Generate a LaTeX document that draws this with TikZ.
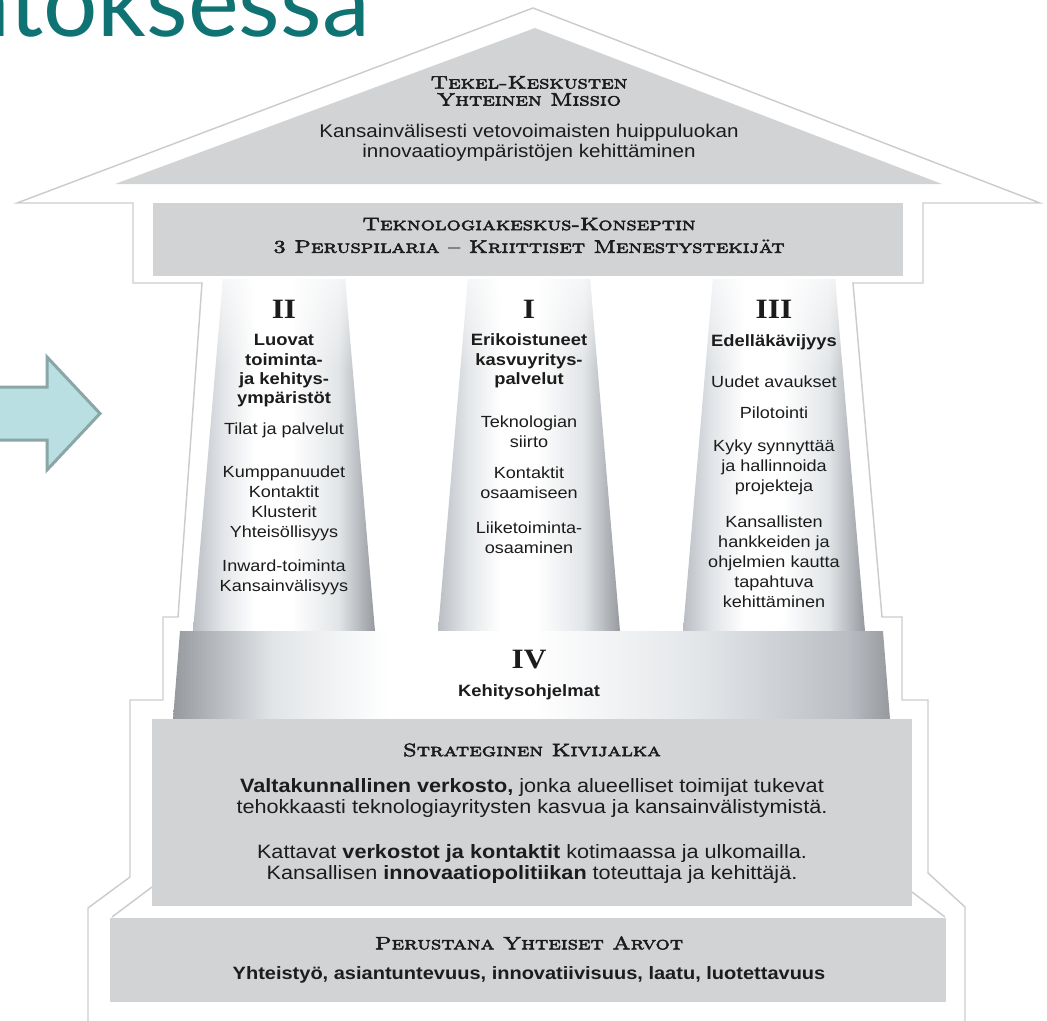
\documentclass[tikz,border=0pt]{standalone}
\usepackage{fontspec}
\setsansfont{Liberation Sans}[FakeStretch=1.12]
\newfontfamily\headfont{lmromancaps10-regular.otf}[FakeStretch=1.25,FakeBold=3]
\newfontfamily\numfont{Liberation Serif}[FakeStretch=1.12]
\newfontfamily\titlefont{Lato}
\usetikzlibrary{fadings}

\definecolor{boxgray}{RGB}{209,211,213}
\definecolor{linegray}{RGB}{204,204,204}
\definecolor{pilledge}{RGB}{186,190,195}
\definecolor{pillmid}{RGB}{226,229,232}
\definecolor{pilldark}{RGB}{150,154,159}
\definecolor{arrowfill}{RGB}{185,223,226}
\definecolor{arrowline}{RGB}{138,166,166}
\definecolor{titleteal}{RGB}{16,115,115}
\definecolor{ink}{RGB}{28,28,28}

\pgfdeclarehorizontalshading{pillarshade}{100bp}{color(0bp)=(pilledge); color(25bp)=(pilledge); color(33bp)=(pillmid); color(42bp)=(white); color(52bp)=(white); color(65bp)=(pillmid); color(75bp)=(pilldark); color(100bp)=(pilldark)}
\pgfdeclarehorizontalshading{baseshade}{100bp}{color(0bp)=(pilldark); color(25bp)=(pilldark); color(32bp)=(pillmid); color(40bp)=(white); color(50bp)=(white); color(62bp)=(pillmid); color(72bp)=(pilledge); color(75bp)=(pilldark); color(100bp)=(pilldark)}
\tikzfading[name=pillar top, top color=transparent!35, bottom color=transparent!100]

\tikzset{
  house line/.style={draw=linegray, line width=1.1pt, line join=miter},
  heading/.style={font=\headfont\fontsize{13.5}{17}\selectfont, text=ink, align=center, inner sep=0pt},
  numeral/.style={font=\numfont\bfseries\fontsize{21}{21}\selectfont, text=ink, inner sep=0pt},
  pilltitle/.style={font=\sffamily\bfseries\fontsize{12.3}{14.5}\selectfont, text=ink, align=center, inner sep=0pt},
  pilltext/.style={font=\sffamily\fontsize{12.1}{15}\selectfont, text=ink, align=center, inner sep=0pt},
  roottext/.style={font=\sffamily\fontsize{14.5}{15.75}\selectfont, text=ink, align=center, inner sep=0pt},
}

\begin{document}
\begin{tikzpicture}[x=0.75pt, y=-0.75pt]
  \useasboundingbox (0, 0) rectangle (1047, 1021);
  %
  % title, cut by the top edge
  \node[font=\titlefont\fontsize{72}{72}\selectfont, text=titleteal, anchor=base east, inner sep=0pt]
    (title) at (370, 36) {atoksessa};
  %
  % arrow
  \draw[fill=arrowfill, draw=arrowline, line width=2.25pt, line join=miter]
    (-4, 387) -- (47, 387) -- (47, 357) -- (100, 413.5) -- (47, 470) -- (47, 440) -- (-4, 440) -- cycle;
  %
  % outline of the house
  \draw[house line] (88, 1021) -- (88, 908) -- (130, 877) -- (130, 700) -- (163, 700) -- (163, 617)
    -- (178, 617) -- (202, 283) -- (133, 283) -- (133, 203) -- (17, 203) -- (533, 8)
    -- (1040, 203) -- (923, 203) -- (923, 283) -- (853, 283) -- (882, 617) -- (902, 617)
    -- (902, 700) -- (928, 700) -- (928, 873) -- (965, 907) -- (965, 1021);
  %
  % roof and beam
  \fill[boxgray] (535, 28) -- (942, 184) -- (115, 184) -- cycle;
  \fill[boxgray] (153, 203) rectangle (903, 276);
  %
  \node[font=\headfont\fontsize{13.5}{12.8}\selectfont, text=ink, align=center, inner sep=0pt]
    (mission head) at (529, 91) {Tekel-Keskusten\\Yhteinen Missio};
  \node[font=\sffamily\fontsize{13.8}{15}\selectfont, text=ink, align=center, inner sep=0pt]
    (mission) at (529, 143) {Kansainvälisesti vetovoimaisten huippuluokan\\innovaatioympäristöjen kehittäminen};
  \node[heading] (beam head) at (529, 235.5)
    {Teknologiakeskus-Konseptin\\3 Peruspilaria – Kriittiset Menestystekijät};
  %
  % pillars
  \newcommand{\topHalf}{61}
  \newcommand{\botHalf}{91}
  \foreach \cx/\nm in {284/II, 529/I, 774/III} {
    \shade[shading=pillarshade] (\cx-\topHalf, 279) -- (\cx+\topHalf, 279)
      -- (\cx+\botHalf, 631) -- (\cx-\botHalf, 631) -- cycle;
    \fill[white, path fading=pillar top] (\cx-\topHalf, 279) -- (\cx+\topHalf, 279)
      -- (\cx+\topHalf+8, 370) -- (\cx-\topHalf-8, 370) -- cycle;
    \node[numeral] (num \nm) at (\cx, 309) {\nm};
  }
  %
  % pillar II
  \node[pilltitle] (luovat) at (284, 371) {Luovat\\toiminta-\\ja kehitys-\\ympäristöt};
  \node[pilltext] (tilat) at (284, 430) {Tilat ja palvelut};
  \node[pilltext] (kumppanuudet) at (284, 503) {Kumppanuudet\\Kontaktit\\Klusterit\\Yhteisöllisyys};
  \node[pilltext] (inward) at (284, 577) {Inward-toiminta\\Kansainvälisyys};
  %
  % pillar I
  \node[pilltitle] (erikoistuneet) at (529, 361) {Erikoistuneet\\kasvuyritys-\\palvelut};
  \node[pilltext] (siirto) at (529, 432) {Teknologian\\siirto};
  \node[pilltext] (kontaktit) at (529, 483) {Kontaktit\\osaamiseen};
  \node[pilltext] (liiketoiminta) at (529, 538) {Liiketoiminta-\\osaaminen};
  %
  % pillar III
  \node[pilltitle] (edellakavijyys) at (774, 342) {Edelläkävijyys};
  \node[pilltext] (avaukset) at (774, 382) {Uudet avaukset};
  \node[pilltext] (pilotointi) at (774, 413) {Pilotointi};
  \node[pilltext] (kyky) at (774, 467) {Kyky synnyttää\\ja hallinnoida\\projekteja};
  \node[pilltext] (kansallisten) at (774, 561.5)
    {Kansallisten\\hankkeiden ja\\ohjelmien kautta\\tapahtuva\\kehittäminen};
  %
  % pedestal IV
  \shade[shading=baseshade] (180, 631) -- (883, 631) -- (890, 719) -- (173, 719) -- cycle;
  \node[numeral] (num IV) at (529, 660) {IV};
  \node[pilltitle] (kehitysohjelmat) at (529, 692) {Kehitysohjelmat};
  %
  % foundation
  \fill[boxgray] (152, 719) rectangle (912, 906);
  \fill[boxgray] (110, 918) rectangle (946, 1002);
  \draw[house line] (152, 887) -- (112, 917);
  \draw[house line] (912, 892) -- (945, 917);
  %
  \node[heading] (kivijalka head) at (532, 750) {Strateginen Kivijalka};
  \node[roottext] (verkosto) at (532, 797.5)
    {\textbf{Valtakunnallinen verkosto,} jonka alueelliset toimijat tukevat\\tehokkaasti teknologiayritysten kasvua ja kansainvälistymistä.};
  \node[roottext] (kontaktit2) at (532, 863.5)
    {Kattavat \textbf{verkostot ja kontaktit} kotimaassa ja ulkomailla.\\Kansallisen \textbf{innovaatiopolitiikan} toteuttaja ja kehittäjä.};
  %
  \node[heading] (arvot head) at (529, 943) {Perustana Yhteiset Arvot};
  \node[font=\sffamily\bfseries\fontsize{13.4}{15}\selectfont, text=ink, inner sep=0pt]
    (arvot) at (529, 975) {Yhteistyö, asiantuntevuus, innovatiivisuus, laatu, luotettavuus};

\end{tikzpicture}
\end{document}
